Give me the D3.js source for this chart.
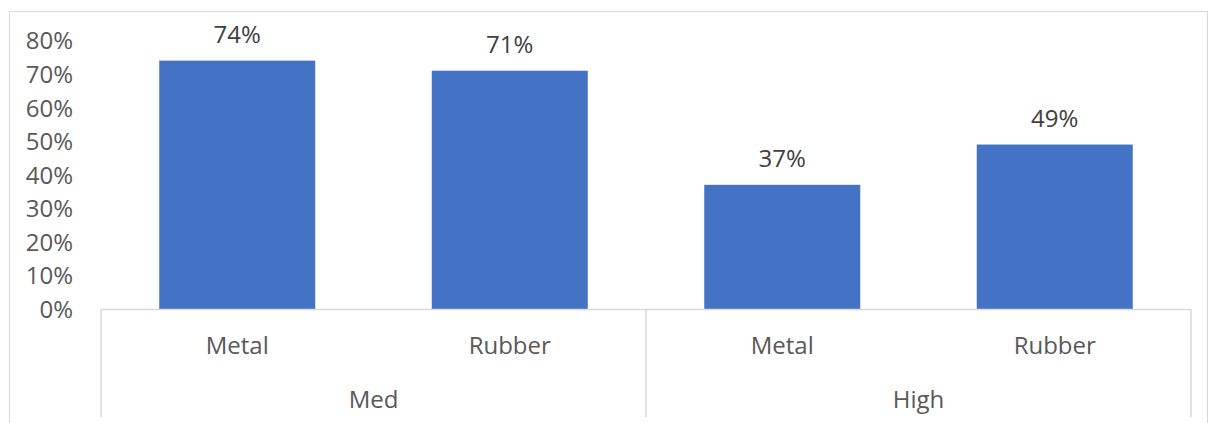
<!DOCTYPE html>
<html>
<head>
<meta charset="utf-8">
<script src="https://cdn.jsdelivr.net/npm/d3@7"></script>
<style>
  html, body { margin: 0; padding: 0; background: #fff; }
  svg { display: block; font-family: "Open Sans", "Noto Sans", sans-serif; }
</style>
</head>
<body>
<svg id="chart" width="1209" height="423"></svg>
<script>
// ---- data ----
const groups = ["Med", "High"];
const materials = ["Metal", "Rubber"];
const categoryGroup = ["Med", "Med", "High", "High"];
const categoryLabel = ["Metal", "Rubber", "Metal", "Rubber"];
const values = [0.74, 0.71, 0.37, 0.49];
const yTickValues = [0, 0.1, 0.2, 0.3, 0.4, 0.5, 0.6, 0.7, 0.8];

// ---- layout ----
const svg = d3.select("#chart");
const plot = { left: 101, right: 1191, top: 40.5, bottom: 309 };
const axisBottomY = 417;

const keys = categoryLabel.map((d, i) => categoryGroup[i] + "|" + d);
const x = d3.scaleBand()
  .domain(keys)
  .range([plot.left, plot.right])
  .paddingInner(0.4275)
  .paddingOuter(0.4275 / 2);
const xGroup = d3.scaleBand()
  .domain(groups)
  .range([plot.left, plot.right]);
const y = d3.scaleLinear().domain([0, 0.8]).range([plot.bottom, plot.top]);

// chart border
svg.append("rect")
  .attr("x", 9.5).attr("y", 11.5)
  .attr("width", 1198).attr("height", 430)
  .attr("fill", "none").attr("stroke", "#d9d9d9").attr("stroke-width", 1);

// y axis labels
const yAxis = svg.append("g")
  .attr("transform", `translate(${plot.left - 28},0)`)
  .call(d3.axisLeft(y).tickValues(yTickValues).tickSize(0).tickPadding(0)
    .tickFormat(d3.format(".0%")));
yAxis.select(".domain").remove();
yAxis.selectAll("text")
  .attr("font-family", "'Open Sans', 'Noto Sans', sans-serif")
  .attr("font-size", 24).attr("fill", "#595959").attr("dy", "0.35em");

// bars
svg.append("g").selectAll("rect")
  .data(values)
  .join("rect")
  .attr("x", (d, i) => x(keys[i]))
  .attr("y", d => y(d))
  .attr("width", x.bandwidth())
  .attr("height", d => y(0) - y(d))
  .attr("fill", "#4472c4");

// data labels
svg.append("g").selectAll("text")
  .data(values)
  .join("text")
  .attr("x", (d, i) => x(keys[i]) + x.bandwidth() / 2)
  .attr("y", d => y(d) - 18)
  .attr("text-anchor", "middle")
  .attr("font-size", 24)
  .attr("fill", "#404040")
  .text(d3.format(".0%"));

// x axis line + separators
const axisColor = "#d9d9d9";
svg.append("line")
  .attr("x1", plot.left).attr("x2", plot.right)
  .attr("y1", plot.bottom + 0.5).attr("y2", plot.bottom + 0.5)
  .attr("stroke", axisColor).attr("stroke-width", 1.5);
const seps = [plot.left, ...groups.map(g => xGroup(g) + xGroup.bandwidth())];
svg.append("g").selectAll("line")
  .data(seps)
  .join("line")
  .attr("x1", d => d).attr("x2", d => d)
  .attr("y1", plot.bottom).attr("y2", axisBottomY)
  .attr("stroke", axisColor).attr("stroke-width", 1.5);

// category labels (inner level)
const xAxis = svg.append("g")
  .attr("transform", `translate(0,${plot.bottom})`)
  .call(d3.axisBottom(x).tickSize(0).tickPadding(0)
    .tickFormat(k => k.split("|")[1]));
xAxis.select(".domain").remove();
xAxis.selectAll("text")
  .attr("font-family", "'Open Sans', 'Noto Sans', sans-serif")
  .attr("font-size", 24).attr("fill", "#595959")
  .attr("dy", null).attr("y", 45);

// group labels (outer level)
svg.append("g").selectAll("text")
  .data(groups)
  .join("text")
  .attr("x", g => xGroup(g) + xGroup.bandwidth() / 2)
  .attr("y", 408)
  .attr("text-anchor", "middle")
  .attr("font-size", 24)
  .attr("fill", "#595959")
  .text(g => g);
</script>
</body>
</html>
